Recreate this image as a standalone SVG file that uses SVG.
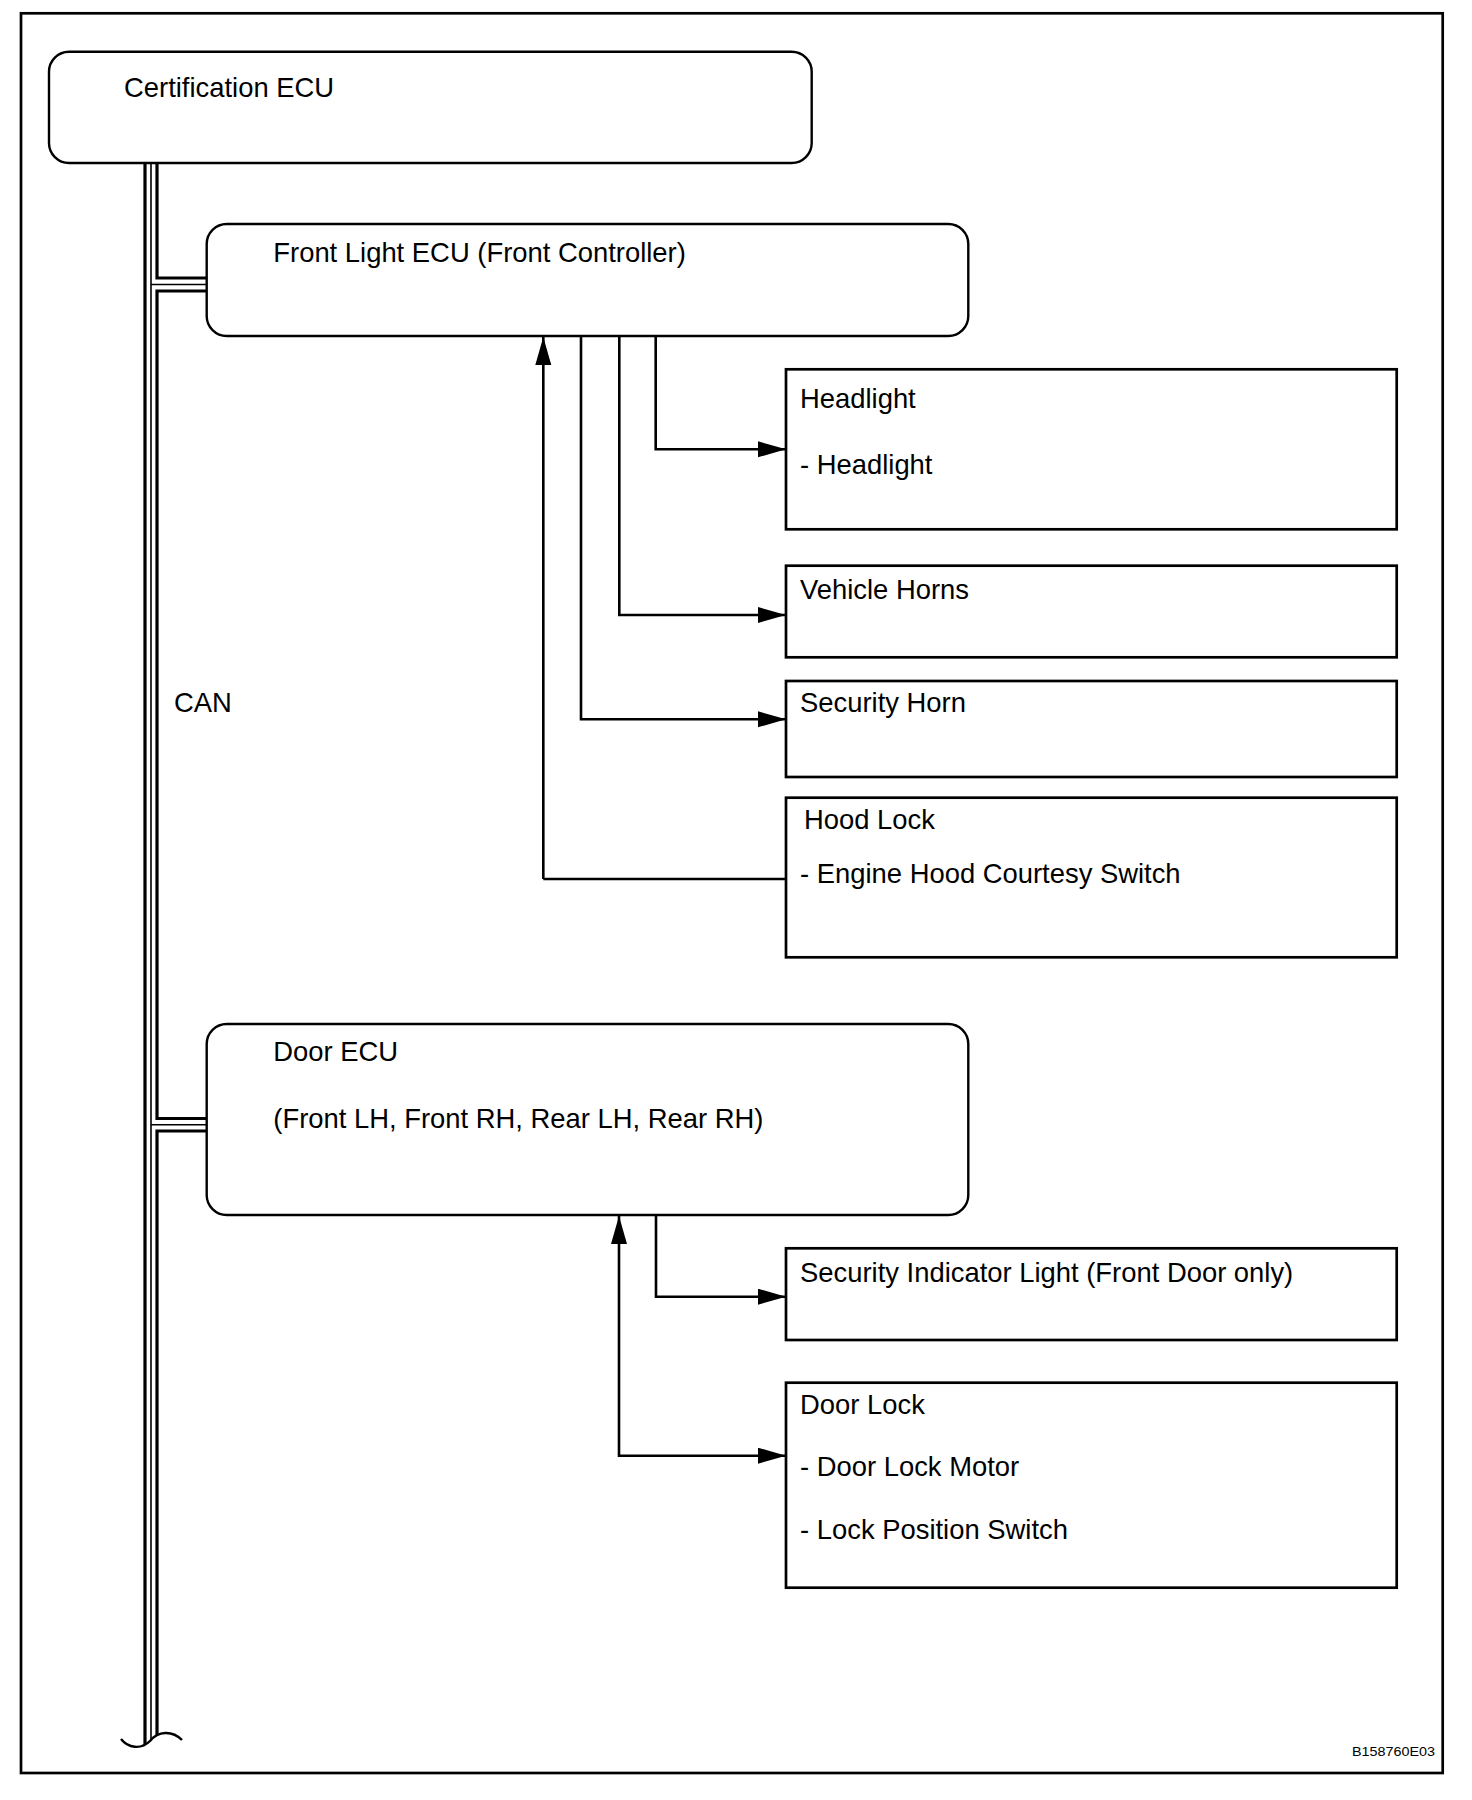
<svg xmlns="http://www.w3.org/2000/svg" width="1472" height="1800" viewBox="0 0 1472 1800">
<style>
  .t { font-family: "Liberation Sans", Arial, sans-serif; font-size: 27.4px; fill: #000; }
  .rb { fill: #fff; stroke: #000; stroke-width: 2.4; }
  .bx { fill: #fff; stroke: #000; stroke-width: 2.7; }
  .c { fill: none; stroke: #000; stroke-width: 2.6; }
  .bus { fill: none; stroke: #000; }
</style>
<defs>
  <marker id="ah" markerUnits="userSpaceOnUse" markerWidth="30" markerHeight="18" refX="28" refY="8" orient="auto-start-reverse" viewBox="0 0 30 18">
    <path d="M0,0 L28,8 L0,16 z" fill="#000"/>
  </marker>
</defs>
<rect x="0" y="0" width="1472" height="1800" fill="#fff"/>
<rect x="21" y="13.3" width="1421.7" height="1759.7" fill="none" stroke="#000" stroke-width="2.7"/>

<g id="can-bus">
  <line class="bus" x1="145" y1="163" x2="145" y2="1745" stroke-width="3.2"/>
  <line class="bus" x1="151" y1="163" x2="151" y2="1741" stroke-width="1.6"/>
  <path class="bus" d="M157,163 V278 H206.7" stroke-width="3.2"/>
  <path class="bus" d="M206.7,291 H157 V1118.5 H206.7" stroke-width="3.2"/>
  <path class="bus" d="M206.7,1131 H157 V1735" stroke-width="3.2"/>
  <line class="bus" x1="151" y1="284.5" x2="206.7" y2="284.5" stroke-width="1.6"/>
  <line class="bus" x1="151" y1="1124.7" x2="206.7" y2="1124.7" stroke-width="1.6"/>
  <path class="bus" d="M121,1739 C128,1748 141,1750 150,1741 C158,1731 172,1730 182,1740" stroke-width="2.4"/>
  <text class="t" x="174" y="711.7">CAN</text>
</g>

<g id="connectors">
  <path class="c" d="M543.3,879 H786 M543.3,879 V337" marker-end="url(#ah)"/>
  <path class="c" d="M655.7,336 V449.3 H786" marker-end="url(#ah)"/>
  <path class="c" d="M619.3,336 V615 H786" marker-end="url(#ah)"/>
  <path class="c" d="M581,336 V719.3 H786" marker-end="url(#ah)"/>
  <path class="c" d="M656,1215 V1296.7 H786" marker-end="url(#ah)"/>
  <path class="c" d="M619,1216 V1455.7 H786" marker-start="url(#ah)" marker-end="url(#ah)"/>
</g>

<g id="certification-ecu">
  <rect class="rb" x="49" y="51.7" width="762.7" height="111.3" rx="20" ry="20"/>
  <text class="t" x="124" y="96.7">Certification ECU</text>
</g>

<g id="front-light-ecu">
  <rect class="rb" x="206.7" y="224" width="761.6" height="112" rx="20" ry="20"/>
  <text class="t" x="273.3" y="261.7">Front Light ECU (Front Controller)</text>
</g>

<g id="headlight">
  <rect class="bx" x="786" y="369.3" width="610.7" height="160"/>
  <text class="t" x="800" y="408.3">Headlight</text>
  <text class="t" x="800" y="474.3">- Headlight</text>
</g>

<g id="vehicle-horns">
  <rect class="bx" x="786" y="565.7" width="610.7" height="91.6"/>
  <text class="t" x="800" y="599">Vehicle Horns</text>
</g>

<g id="security-horn">
  <rect class="bx" x="786" y="681" width="610.7" height="96"/>
  <text class="t" x="800" y="711.7">Security Horn</text>
</g>

<g id="hood-lock">
  <rect class="bx" x="786" y="797.7" width="610.7" height="159.6"/>
  <text class="t" x="804" y="829.3">Hood Lock</text>
  <text class="t" x="800" y="882.7">- Engine Hood Courtesy Switch</text>
</g>

<g id="door-ecu">
  <rect class="rb" x="206.7" y="1024" width="761.6" height="191" rx="20" ry="20"/>
  <text class="t" x="273.3" y="1060.7">Door ECU</text>
  <text class="t" x="273.3" y="1128.3">(Front LH, Front RH, Rear LH, Rear RH)</text>
</g>

<g id="security-indicator-light">
  <rect class="bx" x="786" y="1248.3" width="610.7" height="91.7"/>
  <text class="t" x="800" y="1281.7">Security Indicator Light (Front Door only)</text>
</g>

<g id="door-lock">
  <rect class="bx" x="786" y="1382.7" width="610.7" height="205"/>
  <text class="t" x="800" y="1414">Door Lock</text>
  <text class="t" x="800" y="1476">- Door Lock Motor</text>
  <text class="t" x="800" y="1539.3">- Lock Position Switch</text>
</g>

<text x="1435" y="1756" text-anchor="end" textLength="83" lengthAdjust="spacingAndGlyphs" style="font-family: 'Liberation Sans', Arial, sans-serif; font-size: 13.5px;">B158760E03</text>
</svg>
